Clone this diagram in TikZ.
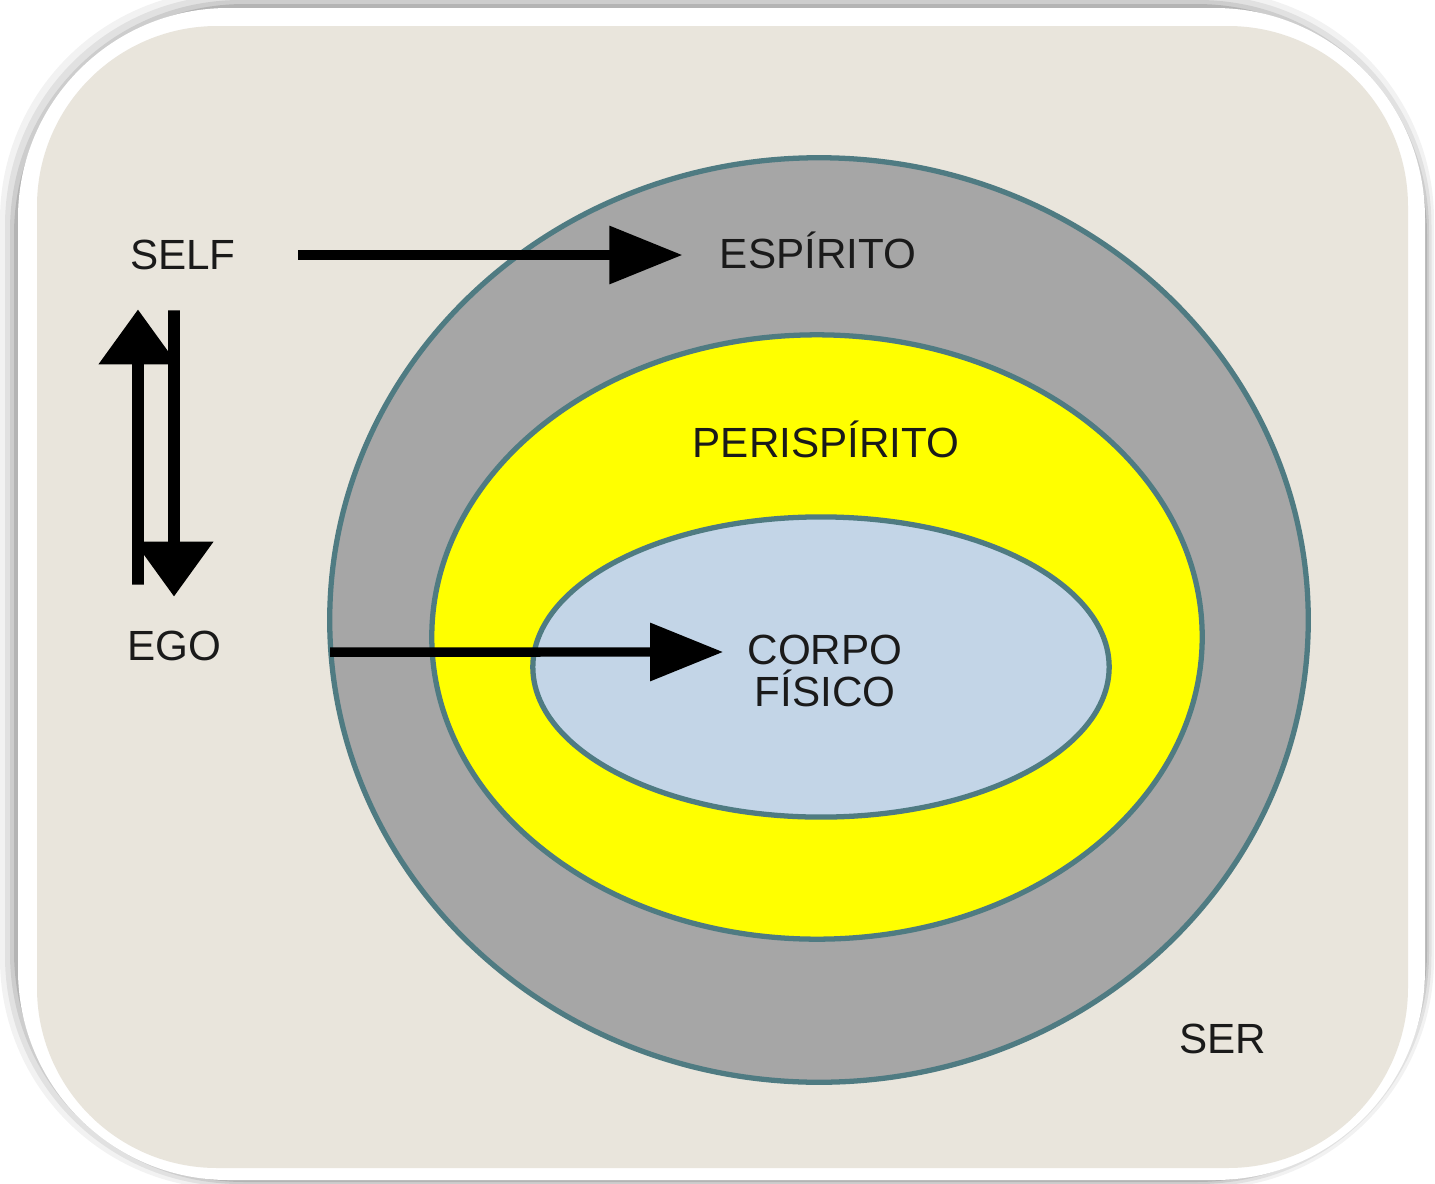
\documentclass[tikz,border=0pt]{standalone}
\usepackage{fontspec}
\setmainfont{Liberation Sans}
\usetikzlibrary{arrows.meta,positioning}
\definecolor{bg}{HTML}{E9E5DC}
\definecolor{rim}{HTML}{4F7B82}
\definecolor{spirit}{HTML}{A6A6A6}
\definecolor{peri}{HTML}{FFFF00}
\definecolor{soma}{HTML}{C3D5E7}
\definecolor{ink}{HTML}{1A1A1A}
\tikzset{
  lbl/.style={font=\fontsize{12}{12.2}\selectfont,text=ink,align=center},
  layer/.style={draw=rim,line width=1.5pt},
  harr/.style={-{Triangle[length=0.73cm,width=0.56cm]},line width=2.7pt},
  varr/.style={-{Triangle[length=0.55cm,width=0.76cm]},line width=3.3pt},
}

\begin{document}
\begin{tikzpicture}[x=0.01cm,y=-0.01cm]
\useasboundingbox (0,0) rectangle (1435,1184);
% frame with soft shadow
\foreach \o/\a in {18/0.05,13/0.07,8/0.09,4/0.12}
  \fill[black,opacity=\a,rounded corners=2.3cm] (18-\o,8-\o) rectangle (1425+\o/2,1180+\o/2);
\fill[white,rounded corners=2.1cm] (18,8) rectangle (1425,1180);
\fill[bg,rounded corners=1.8cm] (37,26) rectangle (1408,1168);

% layers of the being
\draw[layer,fill=spirit] (819,620) ellipse [x radius=4.89cm,y radius=4.62cm];
\draw[layer,fill=peri] (817,637) ellipse [x radius=3.85cm,y radius=3.02cm];
\draw[layer,fill=soma] (821,667) ellipse [x radius=2.88cm,y radius=1.50cm];
\coordinate (rimw) at (330,652);

\node[lbl] (self) at (183,255) {SELF};
\node[lbl] (ego) at (174,646) {EGO};
\node[lbl] (esp) at (818,250) {ESPÍRITO};
\node[lbl] (peri) at (826,439) {PERISPÍRITO};
\node[lbl] (corpo) at (825,671) {CORPO\\FÍSICO};
\node[lbl] (ser) at (1223,1039) {SER};

\draw[harr] ([xshift=0.50cm]self.east) -- ([xshift=-0.25cm]esp.west |- self.east);
\draw[harr] (rimw) -- ([xshift=-0.12cm,yshift=0.19cm]corpo.west);
\draw[varr,shorten <=0.34cm,shorten >=0.27cm] ([xshift=-0.36cm]ego.north) -- ([xshift=-0.45cm]self.south);
\draw[varr,shorten <=0.28cm,shorten >=0.22cm] ([xshift=-0.09cm]self.south) -- (ego.north);
\end{tikzpicture}
\end{document}
